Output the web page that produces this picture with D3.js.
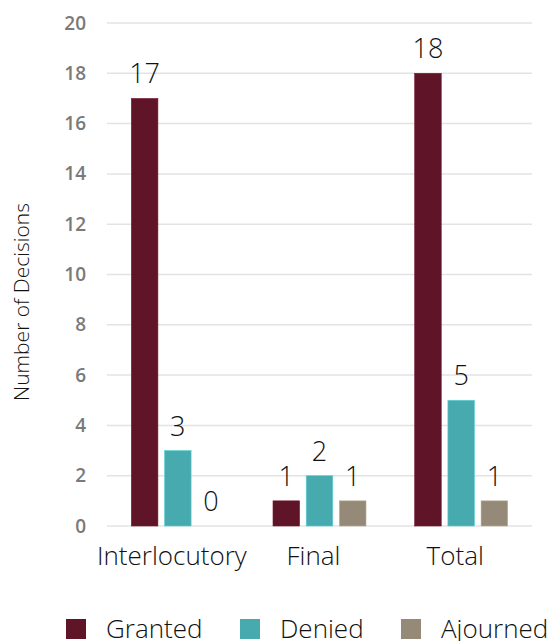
<!DOCTYPE html>
<html><head><meta charset="utf-8">
<script src="https://cdn.jsdelivr.net/npm/d3@7"></script>
<style>body{margin:0;background:#fff;}svg{display:block;}</style>
</head><body>
<svg id="c" width="553" height="641"></svg>
<script>
const categories = ["Interlocutory", "Final", "Total"];
const seriesNames = ["Granted", "Denied", "Ajourned"];
const granted = [17, 1, 18];
const denied = [3, 2, 5];
const ajourned = [0, 1, 1];
const yTicks = [0, 2, 4, 6, 8, 10, 12, 14, 16, 18, 20];
const colors = ["#5f1428", "#47aaae", "#958a78"];
const values = [granted, denied, ajourned];

const svg = d3.select("#c");
const font = "'Open Sans', sans-serif";
const x = d3.scaleBand().domain(categories).range([107, 532]).paddingInner(0).paddingOuter(0);
const xs = d3.scaleBand().domain(seriesNames).range([0, 93]).paddingInner(0.2);
const y = d3.scaleLinear().domain([0, 20]).range([526, 23]);

// gridlines
svg.append("g").selectAll("line").data(yTicks).join("line")
  .attr("x1", 107).attr("x2", 532)
  .attr("y1", d => y(d)).attr("y2", d => y(d))
  .attr("stroke", "#e3e3e3").attr("stroke-width", 1.5);

// y axis labels
const yAxis = d3.axisLeft(y).tickValues(yTicks).tickSize(0).tickPadding(0);
const ya = svg.append("g").attr("transform", "translate(86,0)").call(yAxis);
ya.select(".domain").remove();
ya.selectAll("text").attr("font-family", font).attr("font-size", 19)
  .attr("font-weight", 600).attr("fill", "#7a7a7a");

// bars
categories.forEach((cat, ci) => {
  const gx = x(cat) + x.bandwidth() / 2 - 46.5;
  seriesNames.forEach((s, si) => {
    const v = values[si][ci];
    const bx = gx + xs(s);
    svg.append("rect").attr("x", bx).attr("y", y(v))
      .attr("width", xs.bandwidth()).attr("height", y(0) - y(v))
      .attr("fill", colors[si]).attr("stroke", d3.color(colors[si]).brighter(0.6)).attr("stroke-width", 0.6);
    svg.append("text").attr("x", bx + xs.bandwidth() / 2).attr("y", y(v) - 15)
      .attr("text-anchor", "middle").attr("font-family", font).attr("font-weight", 300)
      .attr("font-size", 27).attr("fill", "#111").text(v);
  });
});

// x axis labels
const xAxis = d3.axisBottom(x).tickSize(0).tickPadding(0);
const xa = svg.append("g").attr("transform", "translate(-6,565)").call(xAxis);
xa.select(".domain").remove();
xa.selectAll("text").attr("font-family", font).attr("font-weight", 300)
  .attr("font-size", 26).attr("fill", "#111").attr("dy", 0).attr("y", 0);

// y title
svg.append("text").attr("transform", "translate(29,302) rotate(-90)")
  .attr("text-anchor", "middle").attr("font-family", font).attr("font-weight", 300)
  .attr("font-size", 21).attr("fill", "#111").text("Number of Decisions");

// legend
const legX = [66, 240, 401];
seriesNames.forEach((s, i) => {
  svg.append("rect").attr("x", legX[i]).attr("y", 619).attr("width", 20).attr("height", 20).attr("fill", colors[i]);
  svg.append("text").attr("x", legX[i] + 40).attr("y", 638).attr("font-family", font).attr("font-weight", 300)
    .attr("font-size", 26).attr("fill", "#111").text(s);
});
</script>
</body></html>
